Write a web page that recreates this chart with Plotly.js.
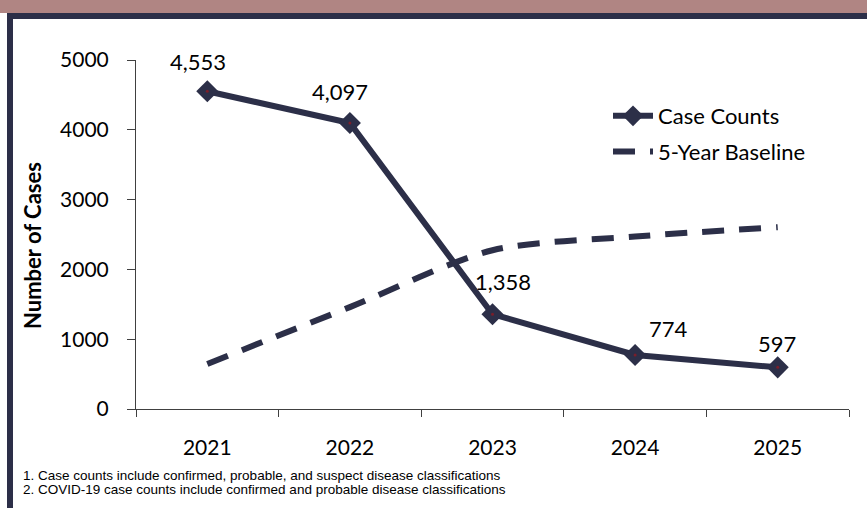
<!DOCTYPE html>
<html>
<head>
<meta charset="utf-8">
<script src="https://cdn.plot.ly/plotly-3.0.1.min.js"></script>
<style>
  html, body { margin: 0; padding: 0; background: #ffffff; }
  #wrap { position: relative; width: 867px; height: 508px; overflow: hidden; }
  #chart { position: absolute; left: 0; top: 0; width: 867px; height: 508px; }
  .band-top { position: absolute; left: 0; top: 0; width: 867px; height: 13px; background: #B08583; z-index: 5; }
  .band-dark { position: absolute; left: 7px; top: 13px; width: 860px; height: 6px; background: #2C2F48; z-index: 5; }
  .band-left { position: absolute; left: 7px; top: 13px; width: 6px; height: 495px; background: #2C2F48; z-index: 5; }
</style>
</head>
<body>
<div id="wrap">
  <div id="chart"></div>
  <div class="band-top"></div>
  <div class="band-dark"></div>
  <div class="band-left"></div>
</div>
<script>
// ---- data ----
const years = ['2021', '2022', '2023', '2024', '2025'];
const caseCounts = [4553, 4097, 1358, 774, 597];
const baseline = [645, 1460, 2275, 2470, 2605];
const yTickVals = [0, 1000, 2000, 3000, 4000, 5000];
const seriesNames = ['Case Counts', '5-Year Baseline'];
const yAxisTitle = 'Number of Cases';
const footnotes = [
  '1. Case counts include confirmed, probable, and suspect disease classifications',
  '2. COVID-19 case counts include confirmed and probable disease classifications'
];
// label offsets (style only): [xshift, yshift] in px
const labelShifts = [[-9, 30], [-10, 32], [10, 33], [33, 26], [-1, 24]];

const NAVY = '#2C2F48';
const FONT = 'Lato, "Open Sans", sans-serif';

const traces = [
  {
    x: years, y: caseCounts, name: seriesNames[0], type: 'scatter', mode: 'lines+markers',
    line: { color: NAVY, width: 6 },
    marker: { symbol: 'diamond', size: 17, color: NAVY },
    legendgroup: 'a', hoverinfo: 'skip'
  },
  {
    x: years, y: baseline, name: seriesNames[1], type: 'scatter', mode: 'lines',
    line: { color: NAVY, width: 6, dash: '22px,15px', shape: 'spline', smoothing: 0.8 },
    legendgroup: 'b', hoverinfo: 'skip'
  },
  {
    x: years, y: caseCounts, type: 'scatter', mode: 'markers', showlegend: false,
    marker: { symbol: 'circle', size: 3, color: '#7A1E2A' }, hoverinfo: 'skip'
  }
];

// category axis: annotation x is the category index
const annotations = caseCounts.map((v, i) => ({
  x: i, y: v, xref: 'x', yref: 'y', showarrow: false,
  text: v.toLocaleString('en-US'),
  xshift: labelShifts[i][0], yshift: labelShifts[i][1],
  font: { family: FONT, size: 22, color: '#000' }
}));

annotations.push({
  xref: 'paper', yref: 'paper', x: (32 - 136) / 713, y: (409 - 246) / 349, textangle: -90,
  xanchor: 'center', yanchor: 'middle', showarrow: false,
  text: '<b>' + yAxisTitle + '</b>',
  font: { family: FONT, size: 22, color: '#000' }
});

footnotes.forEach((t, i) => {
  annotations.push({
    xref: 'paper', yref: 'paper', x: (21 - 136) / 713, y: -(475 + i * 14 - 409) / 349,
    xanchor: 'left', yanchor: 'middle', showarrow: false, text: t,
    font: { family: '"Liberation Sans", Arial, sans-serif', size: 13.5, color: '#000' }
  });
});

const layout = {
  width: 867, height: 508,
  margin: { l: 136, r: 18, t: 60, b: 99, pad: 0 },
  paper_bgcolor: '#ffffff', plot_bgcolor: '#ffffff',
  showlegend: true,
  legend: {
    x: (608 - 136) / 713, y: (409 - 95) / 349, xanchor: 'left', yanchor: 'top',
    traceorder: 'grouped', tracegroupgap: 4,
    font: { family: FONT, size: 22, color: '#000' },
    bgcolor: 'rgba(0,0,0,0)', itemwidth: 40
  },
  xaxis: {
    type: 'category', range: [-0.5, 4.5], showgrid: false, zeroline: false,
    showline: true, linecolor: '#404040', linewidth: 1,
    ticks: 'outside', tickson: 'boundaries', ticklen: 7, tickcolor: '#404040',
    tickfont: { family: FONT, size: 21, color: '#000' },
    ticklabelstandoff: 20
  },
  yaxis: {
    range: [0, 5000], tickvals: yTickVals, showgrid: false, zeroline: false,
    showline: true, linecolor: '#404040', linewidth: 1,
    ticks: 'outside', ticklen: 8, tickcolor: '#404040',
    tickfont: { family: FONT, size: 21, color: '#000' },
    ticklabelstandoff: 14
  },
  annotations: annotations
};

Plotly.newPlot('chart', traces, layout, { displayModeBar: false, staticPlot: true });
</script>
</body>
</html>
